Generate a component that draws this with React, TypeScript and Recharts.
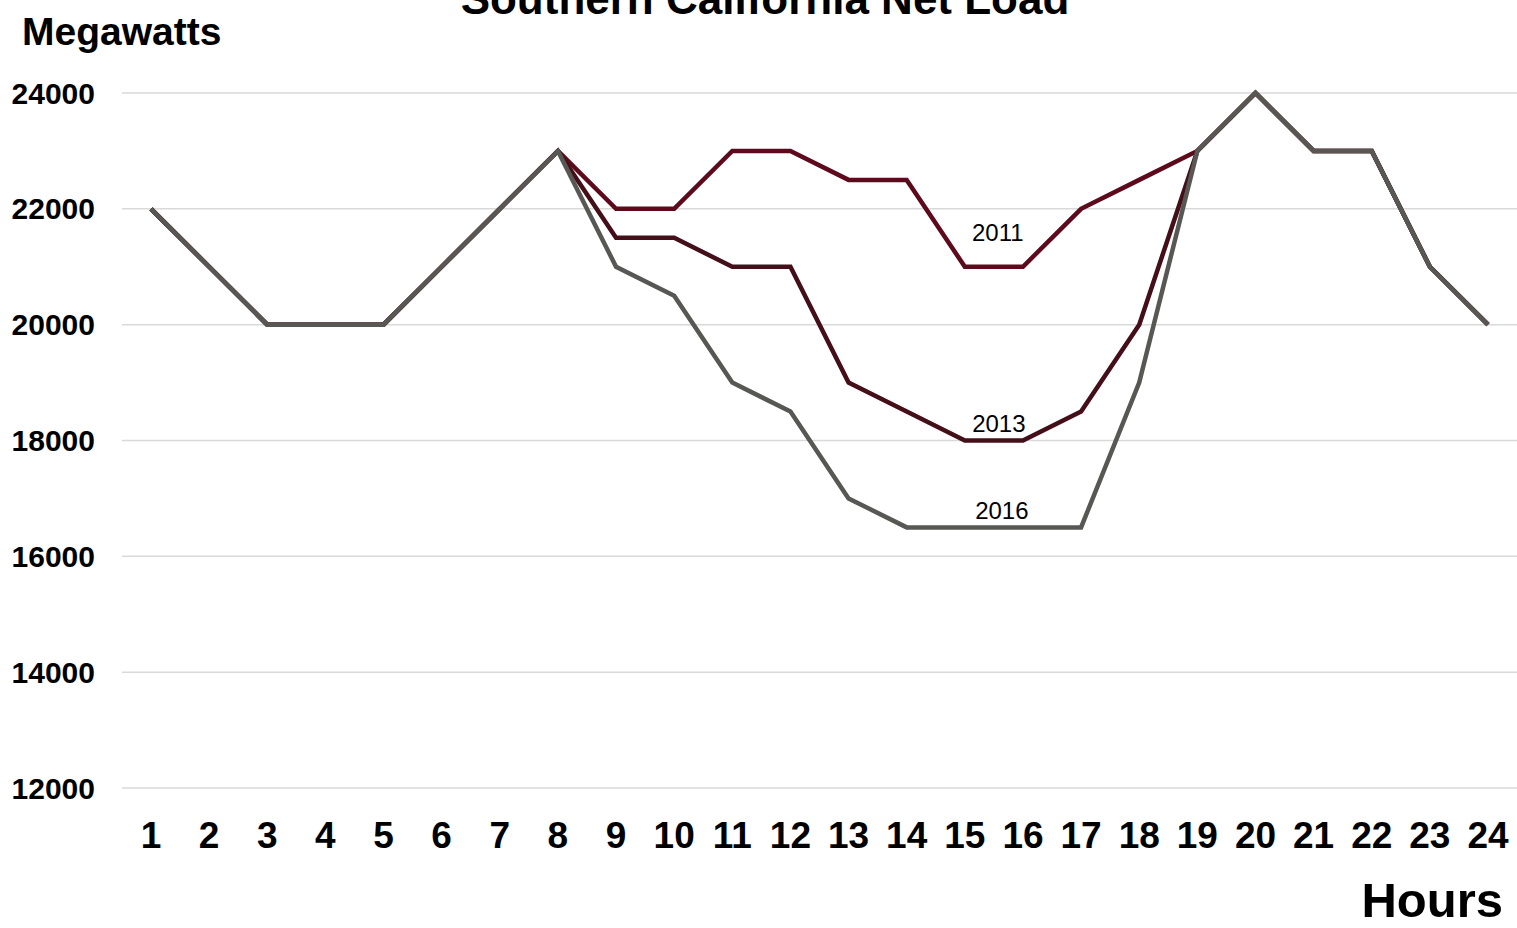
import { LineChart, Line, XAxis, YAxis, CartesianGrid, LabelList } from 'recharts';

const hours = [1, 2, 3, 4, 5, 6, 7, 8, 9, 10, 11, 12, 13, 14, 15, 16, 17, 18, 19, 20, 21, 22, 23, 24];

const load2011 = [22000, 21000, 20000, 20000, 20000, 21000, 22000, 23000, 22000, 22000, 23000, 23000, 22500, 22500, 21000, 21000, 22000, 22500, 23000, 24000, 23000, 23000, 21000, 20000];
const load2013 = [22000, 21000, 20000, 20000, 20000, 21000, 22000, 23000, 21500, 21500, 21000, 21000, 19000, 18500, 18000, 18000, 18500, 20000, 23000, 24000, 23000, 23000, 21000, 20000];
const load2016 = [22000, 21000, 20000, 20000, 20000, 21000, 22000, 23000, 21000, 20500, 19000, 18500, 17000, 16500, 16500, 16500, 16500, 19000, 23000, 24000, 23000, 23000, 21000, 20000];

const yTicks = [12000, 14000, 16000, 18000, 20000, 22000, 24000];

// the year labels sit over the 15th hour
const LABEL_HOUR_INDEX = 14;

const data = hours.map((h, i) => ({
  hour: h,
  y2011: load2011[i],
  y2013: load2013[i],
  y2016: load2016[i],
}));

const FONT = '"Liberation Sans", Arial, Helvetica, sans-serif';

const yearLabel = (year: string, dx: number, up: number) => (props: any) => {
  const { x, y, index } = props;
  if (index !== LABEL_HOUR_INDEX) return null;
  return (
    <text
      x={x + dx}
      y={y - up}
      textAnchor="middle"
      dominantBaseline="central"
      fontFamily={FONT}
      fontSize={24}
      fill="#000"
    >
      {year}
    </text>
  );
};

export default function App() {
  return (
    <div style={{ position: 'absolute', left: 0, top: 0, width: 1517, height: 928, background: '#fff' }}>
      <style>{'body{margin:0}'}</style>
      <LineChart
        width={1517}
        height={928}
        data={data}
        margin={{ top: 93, right: 0, bottom: 0, left: 0 }}
      >
        <CartesianGrid vertical={false} stroke="#d9d9d9" strokeWidth={1.5} />
        <XAxis
          dataKey="hour"
          interval={0}
          axisLine={false}
          tickLine={false}
          tickSize={0}
          tickMargin={34}
          height={140}
          padding={{ left: 29, right: 29 }}
          tick={{ fontFamily: FONT, fontSize: 37, fontWeight: 700, fill: '#000' }}
        />
        <YAxis
          domain={[12000, 24000]}
          ticks={yTicks}
          width={122}
          axisLine={false}
          tickLine={false}
          tickSize={0}
          tickMargin={27}
          tick={{ fontFamily: FONT, fontSize: 30, fontWeight: 700, fill: '#000' }}
        />
        <Line type="linear" dataKey="y2011" stroke="#5e0a1d" strokeWidth={4.5} dot={false} isAnimationActive={false}>
          <LabelList dataKey="y2011" content={yearLabel('2011', 33, 34)} />
        </Line>
        <Line type="linear" dataKey="y2013" stroke="#440f18" strokeWidth={4.5} dot={false} isAnimationActive={false}>
          <LabelList dataKey="y2013" content={yearLabel('2013', 34, 17)} />
        </Line>
        <Line type="linear" dataKey="y2016" stroke="#575753" strokeWidth={4.5} dot={false} isAnimationActive={false}>
          <LabelList dataKey="y2016" content={yearLabel('2016', 37, 17)} />
        </Line>
      </LineChart>
      <svg
        width={1517}
        height={928}
        style={{ position: 'absolute', left: 0, top: 0, pointerEvents: 'none' }}
      >
        <text x={765} y={14} textAnchor="middle" fontFamily={FONT} fontSize={44} fontWeight={700} fill="#000">
          Southern California Net Load
        </text>
        <text x={22} y={45} fontFamily={FONT} fontSize={39} fontWeight={700} fill="#000">
          Megawatts
        </text>
        <text x={1503} y={917} textAnchor="end" fontFamily={FONT} fontSize={49} fontWeight={700} fill="#000">
          Hours
        </text>
      </svg>
    </div>
  );
}
